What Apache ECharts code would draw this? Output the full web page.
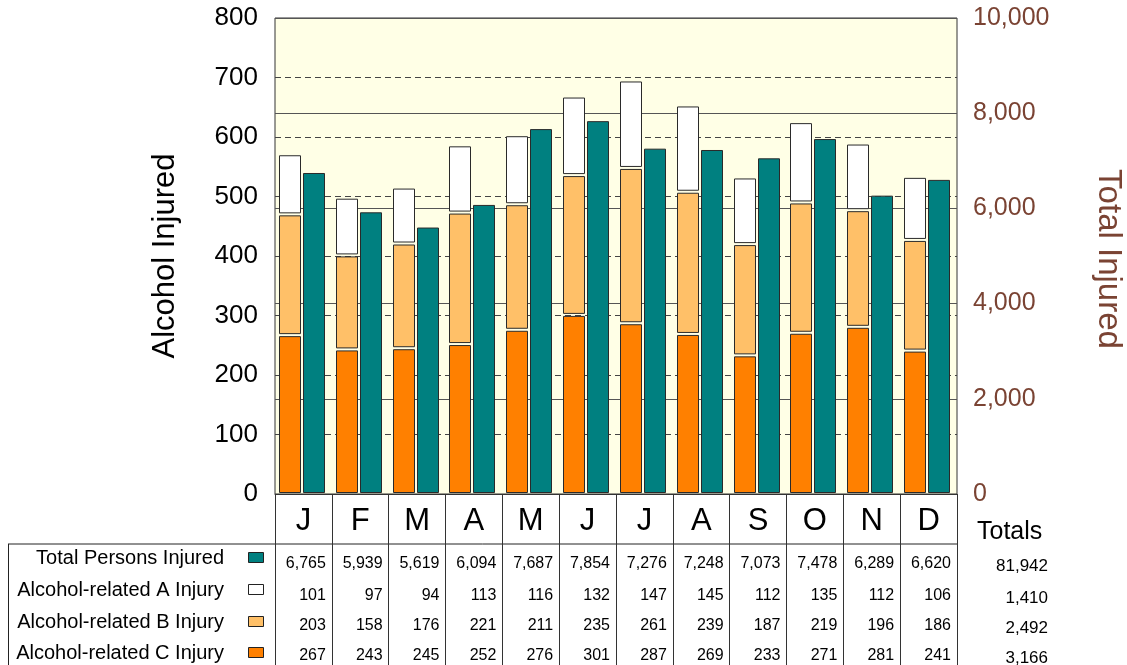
<!DOCTYPE html>
<html>
<head>
<meta charset="utf-8">
<script src="https://cdn.jsdelivr.net/npm/echarts@6/dist/echarts.min.js"></script>
<style>
html,body{margin:0;padding:0;background:#fff;}
#chart{width:1127px;height:665px;}
</style>
</head>
<body>
<div id="chart"></div>
<script>
const months = ['J','F','M','A','M','J','J','A','S','O','N','D'];
const totalInjured = [6765,5939,5619,6094,7687,7854,7276,7248,7073,7478,6289,6620];
const injuryA = [101,97,94,113,116,132,147,145,112,135,112,106];
const injuryB = [203,158,176,221,211,235,261,239,187,219,196,186];
const injuryC = [267,243,245,252,276,301,287,269,233,271,281,241];
const rowLabels = ['Total Persons Injured','Alcohol-related A Injury','Alcohol-related B Injury','Alcohol-related C Injury'];
const rowTotals = [81942,1410,2492,3166];
const colors = {total:'#008080', A:'#FFFFFF', B:'#FFC068', C:'#FF8000'};
const brown = '#7A4333';
const FONT = '"Liberation Sans", Arial, sans-serif';

const chart = echarts.init(document.getElementById('chart'), null, {renderer:'canvas'});
const fmt = v => Number(v).toLocaleString('en-US');

const BAR_W = 21, BAR_GAP = 3, SHIFT = -2, INSET = 1.5;
// stacked segments: each gets its base from the lower segments' values
function segmentSeries(name, values, bases, color, slot) {
  return {
    name, type:'custom', yAxisIndex: slot === 0 ? 0 : 1,
    data: values.map((v, i) => [i, v, bases[i]]),
    encode:{x:0, y:1},
    renderItem: function (params, api) {
      const i = api.value(0), v = api.value(1), b = api.value(2);
      const pb = api.coord([i, b]);
      const pt = api.coord([i, b + v]);
      const cx = pb[0] + SHIFT;
      const x = slot === 0 ? cx - BAR_GAP/2 - BAR_W : cx + BAR_GAP/2;
      const xr = Math.round(x) + 0.5;
      return {
        type:'rect',
        shape:{x:xr, y:pt[1] + INSET, width:BAR_W, height:(pb[1] - pt[1]) - 2*INSET},
        style:{fill:color, stroke:'#2a2a2a', lineWidth:1}
      };
    }
  };
}
const zeros = months.map(() => 0);
const baseB = injuryC.slice();
const baseA = injuryC.map((c, i) => c + injuryB[i]);

chart.setOption({
  animation:false,
  textStyle:{fontFamily:FONT},
  grid:{left:275, right:170, top:18, height:476, show:true, backgroundColor:'#FFFFE6', borderColor:'#333', borderWidth:1},
  xAxis:{
    type:'category', data:months,
    axisLine:{show:true, lineStyle:{color:'#333'}},
    axisTick:{show:true, length:171, interval:0, lineStyle:{color:'#333'}},
    axisLabel:{fontSize:31, color:'#000', margin:12, interval:0, fontFamily:FONT}
  },
  yAxis:[
    {type:'value', min:0, max:800, interval:100, position:'left',
     axisLine:{show:false}, axisTick:{show:false},
     axisLabel:{fontSize:26, color:'#000', margin:17, fontFamily:FONT},
     splitLine:{show:true, lineStyle:{color:'#444', type:[6,4], width:1}}},
    {type:'value', min:0, max:10000, interval:2000, position:'right',
     axisLine:{show:false}, axisTick:{show:false},
     axisLabel:{fontSize:25, color:brown, margin:16, formatter:fmt, fontFamily:FONT},
     splitLine:{show:true, lineStyle:{color:'#555', type:'solid', width:1}}}
  ],
  series:[
    segmentSeries('Alcohol-related C Injury', injuryC, zeros, colors.C, 0),
    segmentSeries('Alcohol-related B Injury', injuryB, baseB, colors.B, 0),
    segmentSeries('Alcohol-related A Injury', injuryA, baseA, colors.A, 0),
    segmentSeries('Total Persons Injured', totalInjured, zeros, colors.total, 1)
  ]
});

// table drawn from data, positioned with the category axis scale
const c0 = chart.convertToPixel({xAxisIndex:0}, 0);
const c1 = chart.convertToPixel({xAxisIndex:0}, 1);
const band = c1 - c0;
const tableTop = 544;
const plotRight = chart.convertToPixel({xAxisIndex:0}, months.length - 1) + band / 2;
const rowsData = [totalInjured, injuryA, injuryB, injuryC];
const rowSwatch = [colors.total, colors.A, colors.B, colors.C];
const labelY = [558, 590, 622, 653];
const numY = [564, 596, 626, 656];
const g = [];
g.push({type:'line', shape:{x1:8, y1:tableTop, x2:plotRight, y2:tableTop}, style:{stroke:'#222', lineWidth:1}});
g.push({type:'line', shape:{x1:8.5, y1:tableTop, x2:8.5, y2:665}, style:{stroke:'#222', lineWidth:1}});
rowLabels.forEach((lab, r) => {
  g.push({type:'text', x:224, y:labelY[r], style:{text:lab, fontSize:20, fontFamily:FONT, fill:'#000', align:'right', verticalAlign:'middle'}});
  g.push({type:'rect', shape:{x:248.5, y:labelY[r]-5.5, width:15, height:10}, style:{fill:rowSwatch[r], stroke:'#222', lineWidth:1}});
  rowsData[r].forEach((v, i) => {
    const cx = chart.convertToPixel({xAxisIndex:0}, i);
    g.push({type:'text', x:cx + band/2 - 6, y:numY[r], style:{text:fmt(v), fontSize:16, fontFamily:FONT, fill:'#000', align:'right', verticalAlign:'middle'}});
  });
  g.push({type:'text', x:1048, y:numY[r]+2, style:{text:fmt(rowTotals[r]), fontSize:17, fontFamily:FONT, fill:'#000', align:'right', verticalAlign:'middle'}});
});
g.push({type:'text', x:977, y:532, style:{text:'Totals', fontSize:25, fontFamily:FONT, fill:'#000', align:'left', verticalAlign:'middle'}});
g.push({type:'text', x:165, y:256, rotation:Math.PI/2, style:{text:'Alcohol Injured', fontSize:31, fontFamily:FONT, fill:'#000', align:'center', verticalAlign:'middle'}});
g.push({type:'text', x:1108, y:259, rotation:-Math.PI/2, style:{text:'Total Injured', fontSize:33, fontFamily:FONT, fill:brown, align:'center', verticalAlign:'middle'}});
chart.setOption({graphic:g});
</script>
</body>
</html>
